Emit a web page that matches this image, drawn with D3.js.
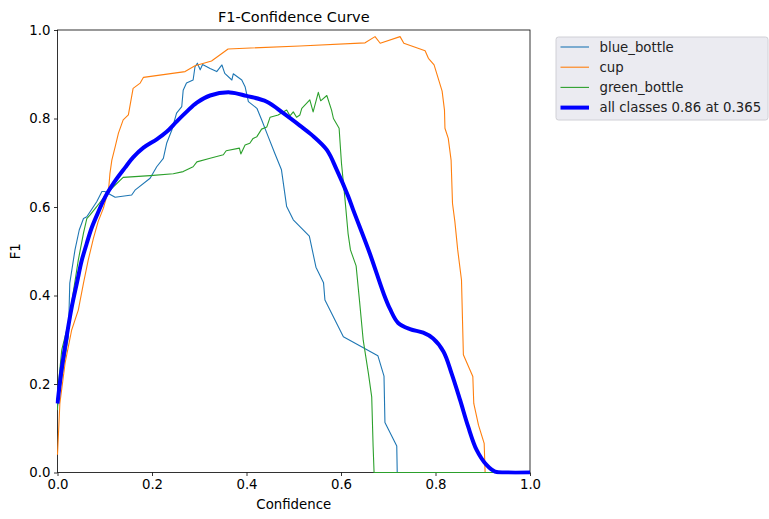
<!DOCTYPE html>
<html>
<head>
<meta charset="utf-8">
<script src="https://cdn.jsdelivr.net/npm/d3@7"></script>
<style>
  html, body { margin: 0; padding: 0; background: #fff; }
  svg { display: block; font-family: "DejaVu Sans", sans-serif; }
</style>
</head>
<body>
<svg id="chart" width="769" height="519"></svg>
<script>
/* F1-Confidence curve */

const TITLE = "F1-Confidence Curve";
const X_TICKS = [0, 0.2, 0.4, 0.6, 0.8, 1.0];
const Y_TICKS = [0, 0.2, 0.4, 0.6, 0.8, 1.0];

// [confidence, F1]
const blueBottle = [
  [0, 0.15], [0.01, 0.22], [0.023, 0.307], [0.026, 0.428], [0.037, 0.503], [0.046, 0.548],
  [0.055, 0.574], [0.062, 0.578], [0.083, 0.612], [0.094, 0.635], [0.10, 0.635],
  [0.122, 0.622], [0.157, 0.627], [0.164, 0.638], [0.196, 0.665], [0.210, 0.691],
  [0.224, 0.710], [0.231, 0.744], [0.242, 0.774], [0.252, 0.812], [0.263, 0.827],
  [0.266, 0.864], [0.273, 0.880], [0.287, 0.887], [0.291, 0.917], [0.296, 0.925],
  [0.302, 0.910], [0.307, 0.922], [0.323, 0.913], [0.337, 0.906], [0.348, 0.921],
  [0.354, 0.902], [0.369, 0.887], [0.372, 0.901], [0.390, 0.887], [0.397, 0.872],
  [0.404, 0.838], [0.422, 0.823], [0.432, 0.797], [0.443, 0.767], [0.460, 0.721],
  [0.474, 0.684], [0.485, 0.601], [0.499, 0.571], [0.533, 0.534], [0.547, 0.464],
  [0.563, 0.429], [0.566, 0.390], [0.605, 0.307], [0.678, 0.264], [0.691, 0.218],
  [0.693, 0.113], [0.718, 0.060], [0.719, 0.0], [1.0, 0.0]
];

const cup = [
  [0, 0.04], [0.005, 0.156], [0.016, 0.247], [0.030, 0.322], [0.044, 0.367],
  [0.055, 0.428], [0.065, 0.480], [0.076, 0.529], [0.086, 0.567], [0.097, 0.597],
  [0.108, 0.638], [0.111, 0.676], [0.115, 0.706], [0.122, 0.736], [0.129, 0.767],
  [0.139, 0.797], [0.150, 0.808], [0.160, 0.868], [0.175, 0.880], [0.182, 0.893],
  [0.270, 0.906], [0.291, 0.919], [0.326, 0.930], [0.361, 0.957], [0.513, 0.964],
  [0.651, 0.971], [0.672, 0.985], [0.683, 0.970], [0.725, 0.985], [0.733, 0.970],
  [0.778, 0.953], [0.785, 0.936], [0.797, 0.921], [0.814, 0.862], [0.819, 0.819],
  [0.820, 0.778], [0.827, 0.755], [0.833, 0.706], [0.836, 0.608], [0.841, 0.567],
  [0.847, 0.503], [0.855, 0.435], [0.859, 0.266], [0.879, 0.217], [0.881, 0.156],
  [0.891, 0.107], [0.903, 0.066], [0.905, 0.0], [1.0, 0.0]
];

const greenBottle = [
  [0, 0.141], [0.002, 0.20], [0.009, 0.277], [0.023, 0.337], [0.033, 0.405],
  [0.044, 0.480], [0.055, 0.541], [0.062, 0.574], [0.069, 0.582], [0.083, 0.601],
  [0.108, 0.635], [0.139, 0.667], [0.196, 0.671], [0.245, 0.675], [0.266, 0.680],
  [0.287, 0.691], [0.295, 0.702], [0.323, 0.710], [0.351, 0.718], [0.357, 0.727],
  [0.385, 0.733], [0.388, 0.720], [0.397, 0.740], [0.407, 0.744], [0.414, 0.755],
  [0.422, 0.759], [0.432, 0.776], [0.443, 0.781], [0.450, 0.803], [0.467, 0.808],
  [0.485, 0.819], [0.492, 0.806], [0.499, 0.815], [0.506, 0.803], [0.513, 0.808],
  [0.517, 0.823], [0.534, 0.842], [0.541, 0.815], [0.552, 0.859], [0.557, 0.840],
  [0.570, 0.852], [0.580, 0.819], [0.584, 0.800], [0.596, 0.778], [0.601, 0.699],
  [0.608, 0.623], [0.615, 0.540], [0.620, 0.503], [0.632, 0.467], [0.639, 0.390],
  [0.647, 0.299], [0.658, 0.224], [0.665, 0.171], [0.668, 0.058], [0.670, 0.0],
  [1.0, 0.0]
];

const allClasses = [
  [0, 0.156], [0.009, 0.236], [0.019, 0.305], [0.030, 0.373], [0.041, 0.428],
  [0.051, 0.478], [0.062, 0.518], [0.072, 0.552], [0.086, 0.588], [0.101, 0.623],
  [0.122, 0.659], [0.143, 0.689], [0.160, 0.712], [0.182, 0.734], [0.210, 0.753],
  [0.231, 0.770], [0.252, 0.793], [0.273, 0.815], [0.295, 0.836], [0.323, 0.852],
  [0.365, 0.859], [0.400, 0.851], [0.443, 0.838], [0.478, 0.812], [0.513, 0.784],
  [0.538, 0.763], [0.570, 0.729], [0.591, 0.684], [0.615, 0.625], [0.626, 0.593],
  [0.661, 0.495], [0.690, 0.405], [0.704, 0.369], [0.721, 0.338], [0.746, 0.324],
  [0.774, 0.316], [0.795, 0.303], [0.817, 0.273], [0.834, 0.224], [0.852, 0.164],
  [0.869, 0.104], [0.887, 0.051], [0.908, 0.017], [0.926, 0.002], [0.95, 0.0],
  [1.0, 0.0]
];

const SERIES = [
  { name: "blue_bottle", data: blueBottle, color: "#1f77b4", width: 1.1, smooth: false },
  { name: "cup", data: cup, color: "#ff7f0e", width: 1.1, smooth: false },
  { name: "green_bottle", data: greenBottle, color: "#2ca02c", width: 1.1, smooth: false },
  { name: "all classes 0.86 at 0.365", data: allClasses, color: "#0000ff", width: 4, smooth: true },
];

// ── Layout ───────────────────────────────────────────────────────────────────

const plot = { left: 57.5, right: 530, top: 30, bottom: 472.5 };

const svg = d3.select("#chart");

const x = d3.scaleLinear().domain([0, 1]).range([plot.left, plot.right]);
const y = d3.scaleLinear().domain([0, 1]).range([plot.bottom, plot.top]);

// Axes
const xAxis = svg.append("g")
  .attr("transform", `translate(0,${plot.bottom})`)
  .call(d3.axisBottom(x).tickValues(X_TICKS).tickFormat(d3.format(".1f")).tickSize(3.5).tickPadding(3.5));

const yAxis = svg.append("g")
  .attr("transform", `translate(${plot.left},0)`)
  .call(d3.axisLeft(y).tickValues(Y_TICKS).tickFormat(d3.format(".1f")).tickSize(3.5).tickPadding(3.5));

[xAxis, yAxis].forEach(g => {
  g.select(".domain").remove();
  g.selectAll("line").attr("stroke", "#000").attr("stroke-width", 0.8);
  g.selectAll("text")
    .attr("fill", "#000")
    .attr("font-size", "13.3px")
    .attr("font-family", "DejaVu Sans, sans-serif");
});

// Frame
svg.append("rect")
  .attr("x", plot.left)
  .attr("y", plot.top)
  .attr("width", plot.right - plot.left)
  .attr("height", plot.bottom - plot.top)
  .attr("fill", "none")
  .attr("stroke", "#000")
  .attr("stroke-width", 0.8);

// Curves
const clipId = "plot-clip";
svg.append("clipPath").attr("id", clipId)
  .append("rect")
  .attr("x", plot.left - 2).attr("y", plot.top - 2)
  .attr("width", plot.right - plot.left + 4).attr("height", plot.bottom - plot.top + 4);

const lines = svg.append("g").attr("clip-path", `url(#${clipId})`);

SERIES.forEach(s => {
  const line = d3.line()
    .x(d => x(d[0]))
    .y(d => y(d[1]))
    .curve(s.smooth ? d3.curveCatmullRom.alpha(0.5) : d3.curveLinear);
  lines.append("path")
    .datum(s.data)
    .attr("d", line)
    .attr("fill", "none")
    .attr("stroke", s.color)
    .attr("stroke-width", s.width)
    .attr("stroke-linejoin", "round")
    .attr("stroke-linecap", "butt");
});

// Titles
svg.append("text")
  .attr("x", (plot.left + plot.right) / 2)
  .attr("y", 22)
  .attr("text-anchor", "middle")
  .attr("font-size", "14.5px")
  .text(TITLE);

svg.append("text")
  .attr("x", (plot.left + plot.right) / 2)
  .attr("y", 509)
  .attr("text-anchor", "middle")
  .attr("font-size", "13.3px")
  .text("Confidence");

svg.append("text")
  .attr("transform", `translate(20,${(plot.top + plot.bottom) / 2}) rotate(-90)`)
  .attr("text-anchor", "middle")
  .attr("font-size", "13.3px")
  .text("F1");

// ── Legend ───────────────────────────────────────────────────────────────────

const legend = svg.append("g").attr("transform", "translate(556,37)");

legend.append("rect")
  .attr("x", 0).attr("y", 0)
  .attr("width", 212).attr("height", 83)
  .attr("rx", 2.5)
  .attr("fill", "#ebebf1")
  .attr("stroke", "#d0d0d6")
  .attr("stroke-width", 1);

SERIES.forEach((s, i) => {
  const cy = 10 + i * 20.2;
  legend.append("line")
    .attr("x1", 4.5).attr("x2", 33)
    .attr("y1", cy).attr("y2", cy)
    .attr("stroke", s.color)
    .attr("stroke-width", s.width);
  legend.append("text")
    .attr("x", 43.5)
    .attr("y", cy)
    .attr("dy", "0.35em")
    .attr("font-size", "13.3px")
    .attr("fill", "#222")
    .text(s.name);
});
</script>
</body>
</html>
